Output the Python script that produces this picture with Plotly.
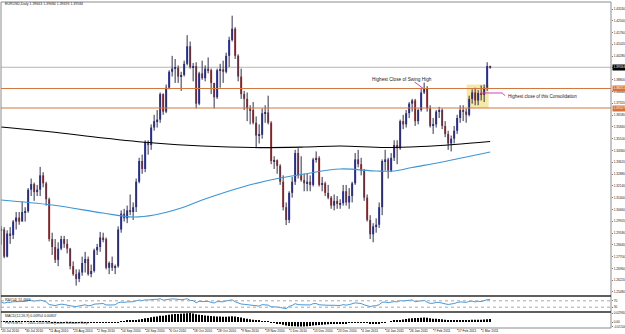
import plotly.graph_objects as go

# ---------------- data (EURUSD, Daily) ----------------
opens = [1.2935, 1.2940, 1.2770, 1.2915,
         1.2905, 1.2990, 1.3015, 1.2990, 1.3050,
         1.3055, 1.3190, 1.3225, 1.3175, 1.3190,
         1.3280, 1.3230, 1.3130, 1.2880, 1.2830,
         1.2750, 1.2820, 1.2880, 1.2850, 1.2820,
         1.2710, 1.2660, 1.2630, 1.2670, 1.2730,
         1.2755, 1.2660, 1.2680, 1.2810, 1.2830,
         1.2890, 1.2880, 1.2700, 1.2730, 1.2700,
         1.2710, 1.2940, 1.3040, 1.3010, 1.3060,
         1.3050, 1.3080, 1.3240, 1.3370, 1.3320,
         1.3490, 1.3470, 1.3580, 1.3620, 1.3630,
         1.3790, 1.3680, 1.3830, 1.3930, 1.3950,
         1.3955, 1.3900, 1.3910, 1.3980, 1.4090,
         1.3960, 1.3965, 1.3730, 1.3920, 1.3890,
         1.3950, 1.3940, 1.3860, 1.3770, 1.3940,
         1.3945, 1.3930, 1.4030, 1.4130, 1.4200,
         1.4030, 1.3900, 1.3790, 1.3760, 1.3700,
         1.3690, 1.3610, 1.3530, 1.3535, 1.3670,
         1.3675, 1.3610, 1.3370, 1.3375, 1.3340,
         1.3240, 1.3080, 1.3000, 1.3170, 1.3240,
         1.3420, 1.3280, 1.3250, 1.3230, 1.3240,
         1.3220, 1.3380, 1.3390, 1.3220, 1.3230,
         1.3170, 1.3140, 1.3090, 1.3120, 1.3100,
         1.3105, 1.3180, 1.3110, 1.3150, 1.3230,
         1.3380, 1.3350, 1.3310, 1.3140, 1.3000,
         1.2910, 1.2960, 1.2970, 1.3080, 1.3370,
         1.3380, 1.3310, 1.3390, 1.3470, 1.3450,
         1.3620, 1.3600, 1.3670, 1.3730, 1.3750,
         1.3620, 1.3690, 1.3800, 1.3825, 1.3700,
         1.3590, 1.3600, 1.3680, 1.3690, 1.3590,
         1.3540, 1.3480, 1.3510, 1.3560, 1.3640,
         1.3690, 1.3680, 1.3660, 1.3760, 1.3800,
         1.3750, 1.3797, 1.3785, 1.3830, 1.39663]
highs = [1.2960, 1.2955, 1.2935, 1.2955,
         1.3000, 1.3050, 1.3050, 1.3115, 1.3080,
         1.3200, 1.3260, 1.3235, 1.3220, 1.3333,
         1.3300, 1.3240, 1.3140, 1.2920, 1.2880,
         1.2860, 1.2900, 1.2900, 1.2880, 1.2825,
         1.2740, 1.2690, 1.2690, 1.2770, 1.2800,
         1.2770, 1.2720, 1.2820, 1.2850, 1.2925,
         1.2920, 1.2890, 1.2740, 1.2770, 1.2720,
         1.2960, 1.3060, 1.3070, 1.3090, 1.3160,
         1.3110, 1.3260, 1.3390, 1.3410, 1.3500,
         1.3500, 1.3600, 1.3660, 1.3690, 1.3800,
         1.3795, 1.3850, 1.3940, 1.4030, 1.4010,
         1.3970, 1.3930, 1.4000, 1.4160, 1.4120,
         1.3985, 1.3990, 1.3930, 1.4000, 1.3970,
         1.4020, 1.3950, 1.3860, 1.3950, 1.3980,
         1.4000, 1.4050, 1.4150, 1.4282, 1.4210,
         1.4040, 1.3950, 1.3810, 1.3800, 1.3720,
         1.3740, 1.3650, 1.3600, 1.3700, 1.3720,
         1.3780, 1.3620, 1.3400, 1.3380, 1.3350,
         1.3280, 1.3110, 1.3180, 1.3270, 1.3440,
         1.3450, 1.3400, 1.3290, 1.3290, 1.3280,
         1.3390, 1.3430, 1.3400, 1.3270, 1.3240,
         1.3220, 1.3150, 1.3160, 1.3150, 1.3130,
         1.3220, 1.3220, 1.3200, 1.3240, 1.3420,
         1.3440, 1.3390, 1.3320, 1.3160, 1.3030,
         1.2980, 1.3010, 1.3110, 1.3380, 1.3440,
         1.3390, 1.3420, 1.3500, 1.3500, 1.3630,
         1.3660, 1.3690, 1.3740, 1.3760, 1.3760,
         1.3700, 1.3830, 1.3862, 1.3840, 1.3720,
         1.3640, 1.3690, 1.3710, 1.3700, 1.3620,
         1.3560, 1.3530, 1.3590, 1.3660, 1.3720,
         1.3720, 1.3700, 1.3780, 1.3820, 1.3830,
         1.3815, 1.3845, 1.3850, 1.3990, 1.39684]
lows = [1.2845, 1.2760, 1.2765, 1.2850,
        1.2880, 1.2940, 1.2970, 1.2990, 1.2990,
        1.3045, 1.3150, 1.3120, 1.3150, 1.3150,
        1.3205, 1.3090, 1.2865, 1.2780, 1.2730,
        1.2710, 1.2810, 1.2825, 1.2790, 1.2690,
        1.2650, 1.2588, 1.2610, 1.2650, 1.2670,
        1.2650, 1.2640, 1.2670, 1.2780, 1.2800,
        1.2860, 1.2690, 1.2660, 1.2680, 1.2660,
        1.2700, 1.2920, 1.2990, 1.2980, 1.3030,
        1.3000, 1.3050, 1.3230, 1.3290, 1.3300,
        1.3410, 1.3440, 1.3560, 1.3580, 1.3610,
        1.3660, 1.3670, 1.3820, 1.3900, 1.3860,
        1.3860, 1.3810, 1.3900, 1.3970, 1.3950,
        1.3870, 1.3700, 1.3720, 1.3880, 1.3870,
        1.3920, 1.3790, 1.3700, 1.3760, 1.3830,
        1.3860, 1.3920, 1.3960, 1.4120, 1.4010,
        1.3870, 1.3760, 1.3690, 1.3620, 1.3600,
        1.3600, 1.3450, 1.3480, 1.3510, 1.3610,
        1.3600, 1.3350, 1.3320, 1.3290, 1.3220,
        1.3060, 1.2968, 1.2980, 1.3140, 1.3220,
        1.3260, 1.3240, 1.3180, 1.3180, 1.3180,
        1.3210, 1.3360, 1.3210, 1.3180, 1.3150,
        1.3130, 1.3070, 1.3060, 1.3070, 1.3070,
        1.3090, 1.3090, 1.3070, 1.3110, 1.3220,
        1.3330, 1.3280, 1.3120, 1.2990, 1.2880,
        1.2860, 1.2920, 1.2950, 1.3030, 1.3310,
        1.3260, 1.3300, 1.3370, 1.3350, 1.3440,
        1.3570, 1.3580, 1.3640, 1.3680, 1.3590,
        1.3600, 1.3680, 1.3790, 1.3680, 1.3580,
        1.3540, 1.3580, 1.3640, 1.3570, 1.3520,
        1.3440, 1.3430, 1.3480, 1.3540, 1.3610,
        1.3620, 1.3610, 1.3650, 1.3730, 1.3720,
        1.3720, 1.3750, 1.3740, 1.3810, 1.39493]
closes = [1.2940, 1.2770, 1.2915, 1.2905,
          1.2990, 1.3015, 1.2990, 1.3050, 1.3055,
          1.3190, 1.3225, 1.3175, 1.3190, 1.3280,
          1.3230, 1.3130, 1.2880, 1.2830, 1.2750,
          1.2820, 1.2880, 1.2850, 1.2820, 1.2710,
          1.2660, 1.2630, 1.2670, 1.2730, 1.2755,
          1.2660, 1.2680, 1.2810, 1.2830, 1.2890,
          1.2880, 1.2700, 1.2730, 1.2700, 1.2710,
          1.2940, 1.3040, 1.3010, 1.3060, 1.3050,
          1.3080, 1.3240, 1.3370, 1.3320, 1.3490,
          1.3470, 1.3580, 1.3620, 1.3630, 1.3790,
          1.3680, 1.3830, 1.3930, 1.3950, 1.3955,
          1.3900, 1.3910, 1.3980, 1.4090, 1.3960,
          1.3965, 1.3730, 1.3920, 1.3890, 1.3950,
          1.3940, 1.3860, 1.3770, 1.3940, 1.3945,
          1.3930, 1.4030, 1.4130, 1.4200, 1.4030,
          1.3900, 1.3790, 1.3760, 1.3700, 1.3690,
          1.3610, 1.3530, 1.3535, 1.3670, 1.3675,
          1.3610, 1.3370, 1.3375, 1.3340, 1.3240,
          1.3080, 1.3000, 1.3170, 1.3240, 1.3420,
          1.3280, 1.3250, 1.3230, 1.3240, 1.3220,
          1.3380, 1.3390, 1.3220, 1.3230, 1.3170,
          1.3140, 1.3090, 1.3120, 1.3100, 1.3105,
          1.3180, 1.3110, 1.3150, 1.3230, 1.3380,
          1.3350, 1.3310, 1.3140, 1.3000, 1.2910,
          1.2960, 1.2970, 1.3080, 1.3370, 1.3380,
          1.3310, 1.3390, 1.3470, 1.3450, 1.3620,
          1.3600, 1.3670, 1.3730, 1.3750, 1.3620,
          1.3690, 1.3800, 1.3825, 1.3700, 1.3590,
          1.3600, 1.3680, 1.3690, 1.3590, 1.3540,
          1.3480, 1.3510, 1.3560, 1.3640, 1.3690,
          1.3680, 1.3660, 1.3760, 1.3800, 1.3750,
          1.3797, 1.3785, 1.3830, 1.3966, 1.39584]

# moving averages (bar index, price)
ma_black_idx = [0, 17, 34, 51, 67, 84, 101, 113, 128, 140, 151, 163]
ma_black_val = [1.35834, 1.35521, 1.35144, 1.34830, 1.34642, 1.34548,
                1.34579, 1.34642, 1.34548, 1.34610, 1.34736, 1.34924]
ma_blue_idx = [0, 17, 34, 44, 51, 60, 67, 76, 84, 93, 101, 113, 125, 131, 137, 147, 163]
ma_blue_val = [1.31253, 1.30939, 1.30437, 1.30186, 1.30311, 1.30751, 1.31253,
               1.31818, 1.32257, 1.32634, 1.32885, 1.33198, 1.33073, 1.33073,
               1.33293, 1.33638, 1.34265]

rsi = [62, 55, 61, 60,
       64, 65, 62, 66, 66, 71, 73, 68, 69, 74, 70, 63, 47, 44, 40,
       45, 49, 47, 45, 39, 36, 34, 38, 43, 45, 39, 41, 49, 50, 54,
       53, 44, 46, 44, 45, 58, 62, 60, 63, 62, 64, 70, 75, 71, 76,
       75, 78, 79, 79, 83, 74, 78, 81, 82, 81, 77, 77, 79, 83, 72,
       72, 58, 67, 65, 67, 66, 61, 56, 65, 65, 64, 69, 73, 76, 64,
       56, 50, 48, 45, 44, 41, 37, 37, 46, 46, 43, 33, 33, 31, 28,
       24, 21, 35, 41, 52, 46, 45, 44, 45, 44, 52, 53, 45, 46, 43,
       42, 40, 42, 41, 41, 46, 43, 46, 50, 57, 55, 53, 45, 38, 34,
       38, 39, 46, 61, 62, 58, 62, 65, 63, 71, 69, 72, 74, 75, 64,
       67, 72, 73, 61, 54, 55, 60, 60, 54, 51, 47, 49, 53, 59, 63,
       62, 60, 66, 68, 63, 67, 65, 71, 77, 77.45]

macd = [0.0015, 0.0012, 0.0012, 0.0011, 0.0012, 0.0013, 0.0013, 0.0014, 0.0015, 0.0017,
        0.0019, 0.0019, 0.0019, 0.0021, 0.0019, 0.0015, 0.0006, -0.0003, -0.0010, -0.0013,
        -0.0014, -0.0016, -0.0018, -0.0022, -0.0026, -0.0029, -0.0030, -0.0028, -0.0025, -0.0026,
        -0.0025, -0.0020, -0.0016, -0.0011, -0.0009, -0.0012, -0.0012, -0.0013, -0.0012, -0.0002,
        0.0012, 0.0022, 0.0034, 0.0043, 0.0053, 0.0068, 0.0086, 0.0100, 0.0120, 0.0135,
        0.0153, 0.0170, 0.0185, 0.0203, 0.0210, 0.0224, 0.0240, 0.0254, 0.0263, 0.0268,
        0.0276, 0.0282, 0.0290, 0.0293, 0.0284, 0.0255, 0.0240, 0.0228, 0.0218, 0.0210,
        0.0200, 0.0188, 0.0180, 0.0178, 0.0174, 0.0176, 0.0183, 0.0190, 0.0182, 0.0166,
        0.0146, 0.0127, 0.0108, 0.0091, 0.0074, 0.0054, 0.0036, 0.0025, 0.0020, 0.0012,
        -0.0010, -0.0030, -0.0050, -0.0070, -0.0092, -0.0118, -0.0130, -0.0138, -0.0140, -0.0146,
        -0.0150, -0.0148, -0.0140, -0.0132, -0.0118, -0.0108, -0.0100, -0.0092, -0.0084, -0.0076,
        -0.0068, -0.0060, -0.0052, -0.0046, -0.0040, -0.0036, -0.0030, -0.0026, -0.0020, -0.0014,
        -0.0016, -0.0022, -0.0032, -0.0042, -0.0048, -0.0050, -0.0046, -0.0030, -0.0012, 0.0000,
        0.0018, 0.0036, 0.0050, 0.0068, 0.0086, 0.0100, 0.0114, 0.0126, 0.0130, 0.0134,
        0.0142, 0.0148, 0.0138, 0.0122, 0.0110, 0.0104, 0.0098, 0.0088, 0.0076, 0.0064,
        0.0058, 0.0056, 0.0058, 0.0062, 0.0064, 0.0064, 0.0070, 0.0076, 0.0076, 0.0078,
        0.0078, 0.0083, 0.0093, 0.0095]

price_ticks = [1.25480, 1.26220, 1.26960, 1.27700, 1.28440, 1.29180, 1.29920,
               1.30660, 1.31400, 1.32140, 1.32880, 1.33620, 1.34360, 1.35100,
               1.35840, 1.36580, 1.37320, 1.38060, 1.38800, 1.39540, 1.40280,
               1.41020, 1.41760, 1.42500, 1.43240]
date_tick_idx = [0, 8, 16, 24, 32, 40, 48, 56, 64, 72, 80, 88, 96, 104,
                 112, 120, 128, 136, 144, 152, 160]
date_tick_text = ["20 Jul 2010", "30 Jul 2010", "11 Aug 2010", "23 Aug 2010",
                  "2 Sep 2010", "14 Sep 2010", "24 Sep 2010", "6 Oct 2010",
                  "18 Oct 2010", "28 Oct 2010", "9 Nov 2010", "19 Nov 2010",
                  "1 Dec 2010", "13 Dec 2010", "23 Dec 2010", "4 Jan 2011",
                  "14 Jan 2011", "26 Jan 2011", "7 Feb 2011", "17 Feb 2011",
                  "1 Mar 2011"]
rsi_levels = [70, 30]

level_swing = 1.38251      # Highest close of swing high
level_low = 1.37027        # lower orange line
bid = 1.39584
header = "EURUSD,Daily 1.39663 1.39684 1.39493 1.39584"
rsi_label = "RSI(14) 77.4466"
macd_label = "MACD(12,26,9) 0.00954 0.00807"
copyright_label = "FxPro MT4, \u00a9 2001-2010 MetaQuotes Software Corp."

# ---------------- styling / layout constants ----------------
W, H = 625, 334
ML, MR, MT, MB = 1, 14, 2, 6
PH = H - MT - MB
def py(p):
    return (H - MB - p) / PH
def px(p):
    return (p - ML) / (W - ML - MR)

BULL = "#2a32b0"
BEAR = "#b83a32"
WICK = "#30304a"
FONT = "Liberation Sans, Arial, sans-serif"

n = len(closes)
idx = list(range(n))

wx, wy = [], []
for i in idx:
    wx += [i, i, None]
    wy += [lows[i], highs[i], None]

MINB = 0.0007
body_base, body_h, body_col = [], [], []
for o, c in zip(opens, closes):
    lo_, hi_ = min(o, c), max(o, c)
    h = hi_ - lo_
    if h < MINB:
        lo_ -= (MINB - h) / 2
        h = MINB
    body_base.append(lo_)
    body_h.append(h)
    body_col.append(BULL if c >= o else BEAR)

fig = go.Figure()
fig.add_trace(go.Scatter(x=wx, y=wy, mode="lines", line=dict(color=WICK, width=1),
                         hoverinfo="skip", xaxis="x", yaxis="y"))
fig.add_trace(go.Bar(x=idx, y=body_h, base=body_base, width=0.67,
                     marker=dict(color=body_col, line=dict(width=0)),
                     xaxis="x", yaxis="y"))
fig.add_trace(go.Scatter(x=ma_black_idx, y=ma_black_val, mode="lines",
                         line=dict(color="#000000", width=1.2, shape="spline"),
                         xaxis="x", yaxis="y"))
fig.add_trace(go.Scatter(x=ma_blue_idx, y=ma_blue_val, mode="lines",
                         line=dict(color="#3d95d6", width=1.2, shape="spline"),
                         xaxis="x", yaxis="y"))
fig.add_trace(go.Scatter(x=idx, y=rsi, mode="lines",
                         line=dict(color="#4a98d6", width=1),
                         xaxis="x", yaxis="y2"))
fig.add_trace(go.Bar(x=idx, y=macd, width=0.34,
                     marker=dict(color="#000000", line=dict(width=0)),
                     xaxis="x", yaxis="y3"))

X0 = -0.05
xr = [X0, X0 + (W - ML - MR) / 3.0]
y_top_px, y_bot_px = 2, 296
PPX = 0.0006276
ytop = 1.43240 + (9 - y_top_px) * PPX
ybot = 1.43240 - (y_bot_px - 9) * PPX

macd_max = max(macd)
macd_min = min(macd)

axfont = dict(family=FONT, size=3.2, color="#1a1a1a")
fig.update_layout(
    width=W, height=H, margin=dict(l=ML, r=MR, t=MT, b=MB),
    template="none", showlegend=False, barmode="overlay",
    paper_bgcolor="white", plot_bgcolor="white",
    font=dict(family=FONT, size=4, color="#222"),
    xaxis=dict(domain=[0, 1], range=xr, anchor="y3", tickmode="array",
               tickvals=date_tick_idx, ticktext=date_tick_text,
               ticks="outside", ticklen=1,
               tickcolor="#777", tickwidth=1,
               showticklabels=False,
               showgrid=False, zeroline=False, showline=False, automargin=False),
    yaxis=dict(domain=[py(y_bot_px), 1], range=[ybot, ytop], side="right", anchor="x",
               tickmode="array", tickvals=price_ticks,
               ticktext=[f"{v:.5f}" for v in price_ticks],
               ticks="outside", ticklen=1, tickcolor="#777", tickfont=axfont,
               showgrid=False, zeroline=False, showline=False, automargin=False),
    yaxis2=dict(domain=[py(312), py(296)], range=[0, 100], side="right", anchor="x",
                tickmode="array", tickvals=rsi_levels, ticktext=[str(v) for v in rsi_levels],
                ticks="outside", ticklen=1, tickcolor="#777", tickfont=axfont,
                showgrid=False, zeroline=False, showline=False, automargin=False),
    yaxis3=dict(domain=[0, py(312)], range=[-0.0198, 0.0330], side="right", anchor="x",
                tickmode="array", tickvals=[macd_max, 0, macd_min],
                ticktext=[f"{macd_max:.5f}", "0.00", f"{macd_min:.5f}"],
                ticks="outside", ticklen=1, tickcolor="#777", tickfont=axfont,
                showgrid=False, zeroline=False, showline=False, automargin=False),
)

shapes = []
# yellow consolidation box
shapes.append(dict(type="rect", xref="x", yref="y", x0=155.2, x1=162.5,
                   y0=level_low, y1=1.3850, fillcolor="#f4e495", opacity=0.85,
                   line=dict(width=0), layer="below"))
# bid line
shapes.append(dict(type="line", xref="paper", yref="y", x0=0, x1=1, y0=bid, y1=bid,
                   line=dict(color="#b4b4b4", width=1), layer="below"))
# orange levels
for lv in (level_swing, level_low):
    shapes.append(dict(type="line", xref="paper", yref="y", x0=0, x1=1, y0=lv, y1=lv,
                       line=dict(color="#d07840", width=1.2)))
# magenta pointers
shapes.append(dict(type="line", xref="x", yref="y", x0=137.8, y0=1.38659,
                   x1=140.6, y1=level_swing + 0.0002,
                   line=dict(color="#d040c0", width=1)))
shapes.append(dict(type="path", xref="x", yref="y",
                   path="M 159.8 1.3797 L 167.0 1.3797 L 168.0 1.3780",
                   line=dict(color="#d040c0", width=1)))
# RSI level lines
for lv in rsi_levels:
    shapes.append(dict(type="line", xref="paper", yref="y2", x0=0, x1=1, y0=lv, y1=lv,
                       line=dict(color="#a8a8a8", width=1, dash="dot")))
# frame & separators
shapes.append(dict(type="rect", xref="paper", yref="paper", x0=0, x1=1, y0=0, y1=1,
                   line=dict(color="#8c8c8c", width=1)))
for p in (296, 312):
    shapes.append(dict(type="line", xref="paper", yref="paper", x0=0, x1=1,
                       y0=py(p), y1=py(p), line=dict(color="#2a2a2a", width=1.5)))
fig.update_layout(shapes=shapes)

ann = []
small = dict(family=FONT, size=3.5, color="#222")
ann.append(dict(text=header, xref="paper", yref="paper", x=px(3), y=py(4.5),
                xanchor="left", yanchor="middle", showarrow=False, font=small))
ann.append(dict(text=rsi_label, xref="paper", yref="paper", x=px(3), y=py(300),
                xanchor="left", yanchor="middle", showarrow=False, font=small))
ann.append(dict(text=macd_label, xref="paper", yref="paper", x=px(3), y=py(316),
                xanchor="left", yanchor="middle", showarrow=False, font=small))
ann.append(dict(text=copyright_label, xref="paper", yref="paper", x=px(3), y=py(323),
                xanchor="left", yanchor="middle", showarrow=False, font=small))
ann.append(dict(text="Highest Close of Swing High", xref="x", yref="y", x=133.5,
                y=1.38847, xanchor="center", yanchor="middle", showarrow=False,
                font=dict(family=FONT, size=4.7, color="#222")))
ann.append(dict(text="Highest close of this Consolidation", xref="x", yref="y", x=168.4,
                y=1.3772, xanchor="left", yanchor="middle", showarrow=False,
                font=dict(family=FONT, size=4.5, color="#222")))
# date labels along the time axis (left-aligned at each tick, MT4 style)
for ti, tt in zip(date_tick_idx, date_tick_text):
    ann.append(dict(text=tt, xref="x", yref="paper", x=ti, y=py(331),
                    xanchor="left", yanchor="middle", showarrow=False, borderpad=0,
                    font=dict(family=FONT, size=3.3, color="#111")))
# price labels on the axis
for val, bg in ((bid, "#000000"), (level_swing, "#d8703a"), (level_low, "#d8703a")):
    ann.append(dict(text=f"{val:.5f}", xref="paper", yref="y", x=1, y=val,
                    xanchor="left", yanchor="middle", xshift=1, showarrow=False,
                    bgcolor=bg, borderpad=0.4,
                    font=dict(family=FONT, size=3.2, color="#ffffff")))
fig.update_layout(annotations=ann)

fig.write_html("out.html", config={"displayModeBar": False})
